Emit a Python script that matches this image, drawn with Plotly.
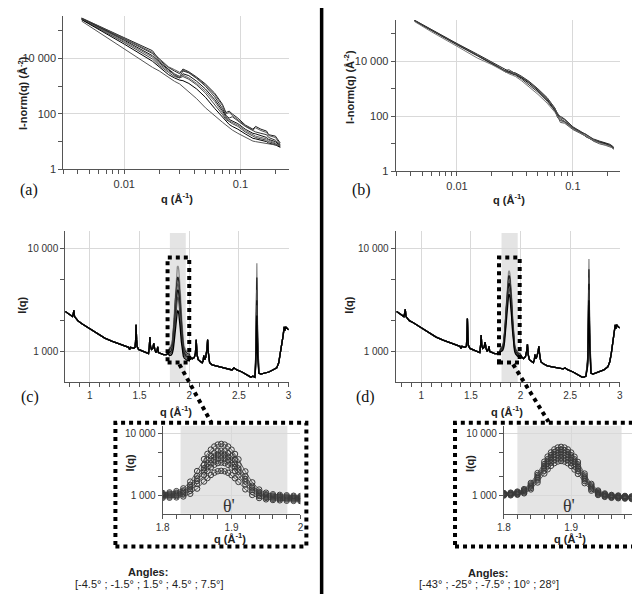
import plotly.graph_objects as go

SANS = "Liberation Sans, Arial, sans-serif"
SERIF = "Liberation Serif, Times New Roman, serif"
W, H = 640, 594

# ---------------- (a) SAXS, tilt angles -4.5 .. 7.5 deg (log10 of I-norm) ----------------
a_q = [0.0043, 0.006, 0.01, 0.0175, 0.02, 0.024, 0.027, 0.03, 0.032, 0.036, 0.042, 0.05, 0.06,
       0.07, 0.075, 0.08, 0.085, 0.095, 0.11, 0.128, 0.135, 0.15, 0.168, 0.175, 0.2, 0.22]
a_log10I = [
    [5.46, 5.18, 4.75, 4.28, 3.95, 3.68, 3.55, 3.45, 3.62, 3.52, 3.33, 3.08, 2.75, 2.35, 2.05, 2.10, 2.00, 1.85, 1.60, 1.45, 1.55, 1.45, 1.38, 1.25, 1.20, 0.95],
    [5.45, 5.17, 4.73, 4.22, 4.00, 3.70, 3.60, 3.50, 3.58, 3.50, 3.30, 3.05, 2.70, 2.30, 2.00, 2.05, 1.95, 1.80, 1.58, 1.42, 1.50, 1.40, 1.33, 1.22, 1.15, 0.90],
    [5.44, 5.15, 4.70, 4.18, 3.90, 3.62, 3.45, 3.35, 3.55, 3.48, 3.28, 3.00, 2.62, 2.20, 1.95, 1.85, 1.90, 1.75, 1.55, 1.40, 1.35, 1.30, 1.25, 1.15, 1.05, 0.88],
    [5.43, 5.13, 4.66, 4.10, 3.85, 3.60, 3.40, 3.30, 3.45, 3.38, 3.18, 2.90, 2.52, 2.12, 1.90, 1.80, 1.75, 1.65, 1.45, 1.30, 1.28, 1.22, 1.15, 1.08, 1.00, 0.85],
    [5.42, 5.10, 4.62, 4.05, 3.80, 3.55, 3.42, 3.35, 3.40, 3.30, 3.10, 2.82, 2.45, 2.05, 1.85, 1.75, 1.70, 1.60, 1.40, 1.25, 1.20, 1.15, 1.10, 1.05, 0.95, 0.82],
    [5.41, 5.08, 4.58, 3.98, 3.75, 3.50, 3.35, 3.30, 3.35, 3.25, 3.05, 2.75, 2.35, 1.98, 1.80, 1.72, 1.65, 1.55, 1.35, 1.20, 1.15, 1.10, 1.05, 1.00, 0.92, 0.80],
    [5.40, 5.05, 4.52, 3.90, 3.70, 3.42, 3.30, 3.22, 3.20, 3.10, 2.90, 2.60, 2.20, 1.88, 1.72, 1.62, 1.55, 1.45, 1.28, 1.12, 1.10, 1.05, 1.00, 0.95, 0.88, 0.80],
    [5.35, 4.95, 4.35, 3.68, 3.55, 3.32, 3.18, 3.08, 2.98, 2.80, 2.55, 2.22, 1.92, 1.70, 1.60, 1.50, 1.42, 1.30, 1.15, 1.02, 1.00, 0.97, 0.93, 0.90, 0.88, 0.85],
]
a_colors = ["#222222", "#555555", "#333333", "#111111", "#666666", "#444444", "#000000", "#555555"]

# ---------------- (b) SAXS, tilt angles -43 .. 28 deg (log10 of I-norm) ----------------
b_q = [0.0043, 0.006, 0.01, 0.015, 0.02, 0.023, 0.026, 0.028, 0.03, 0.032, 0.036, 0.042, 0.05,
       0.06, 0.07, 0.074, 0.078, 0.085, 0.1, 0.12, 0.13, 0.15, 0.17, 0.19, 0.21, 0.225]
b_log10I = [
    [5.50, 5.16, 4.65, 4.26, 3.97, 3.82, 3.70, 3.64, 3.60, 3.58, 3.46, 3.27, 3.00, 2.68, 2.30, 2.05, 2.00, 1.90, 1.62, 1.42, 1.33, 1.18, 1.10, 1.05, 0.98, 0.88],
    [5.49, 5.15, 4.64, 4.24, 3.95, 3.80, 3.66, 3.70, 3.62, 3.55, 3.43, 3.24, 2.97, 2.64, 2.27, 2.10, 1.95, 1.88, 1.60, 1.40, 1.35, 1.15, 1.08, 1.00, 0.95, 0.85],
    [5.48, 5.14, 4.63, 4.23, 3.94, 3.78, 3.62, 3.60, 3.56, 3.52, 3.40, 3.20, 2.93, 2.60, 2.22, 1.95, 1.85, 1.80, 1.55, 1.36, 1.28, 1.12, 1.05, 1.02, 0.92, 0.82],
    [5.48, 5.13, 4.62, 4.22, 3.96, 3.80, 3.64, 3.58, 3.62, 3.55, 3.44, 3.25, 2.98, 2.66, 2.28, 2.00, 1.78, 1.75, 1.52, 1.35, 1.30, 1.10, 1.00, 0.95, 0.90, 0.84],
    [5.47, 5.12, 4.60, 4.20, 3.93, 3.77, 3.65, 3.62, 3.54, 3.50, 3.36, 3.15, 2.88, 2.55, 2.20, 2.02, 1.90, 1.82, 1.58, 1.38, 1.25, 1.14, 1.07, 0.98, 0.94, 0.86],
    [5.45, 5.08, 4.55, 4.12, 3.88, 3.74, 3.60, 3.55, 3.50, 3.45, 3.30, 3.08, 2.80, 2.48, 2.15, 1.98, 1.86, 1.78, 1.55, 1.36, 1.27, 1.13, 1.03, 0.97, 0.91, 0.80],
]
b_colors = ["#222222", "#444444", "#111111", "#555555", "#333333", "#777777"]

# ---------------- (c)/(d) WAXS: shared peak-region grid (linear I) ----------------
peak_q = [1.80, 1.81, 1.82, 1.83, 1.84, 1.85, 1.86, 1.865, 1.87, 1.875, 1.88, 1.885, 1.89,
          1.895, 1.90, 1.905, 1.91, 1.92, 1.93, 1.94, 1.95, 1.96, 1.97, 1.98, 1.99, 2.00]

# (c) left part (log10 I), shared by all curves
c_left_q = [0.752, 0.78, 0.81, 0.825, 0.832, 0.839, 0.846, 0.86, 0.88, 0.92, 0.97, 1.02, 1.08, 1.15,
            1.22, 1.3, 1.36, 1.39, 1.40, 1.41, 1.44, 1.455, 1.46, 1.465, 1.47, 1.475, 1.49, 1.52,
            1.56, 1.59, 1.598, 1.604, 1.61, 1.62, 1.633, 1.643, 1.653, 1.665, 1.676, 1.683, 1.69,
            1.71, 1.74, 1.77, 1.79]
c_left_log10I = [3.39, 3.37, 3.35, 3.34, 3.36, 3.40, 3.34, 3.32, 3.30, 3.27, 3.24, 3.21, 3.17, 3.13,
                 3.10, 3.07, 3.05, 3.04, 3.02, 3.04, 3.03, 3.04, 3.10, 3.26, 3.12, 3.05, 3.02, 3.01,
                 2.99, 2.98, 3.04, 3.14, 3.05, 3.02, 3.03, 3.08, 3.02, 2.99, 3.01, 3.045, 2.99,
                 2.98, 2.97, 2.97, 2.98]
c_peak_I = [
    [1091, 1115, 1168, 1296, 1668, 2475, 3862, 4700, 5510, 6191, 6648, 6807, 6643, 6181, 5495, 4680, 3837, 2440, 1623, 1241, 1103, 1040, 1017, 1001, 984, 973],
    [1050, 1067, 1105, 1199, 1475, 2075, 3107, 3730, 4333, 4840, 5179, 5297, 5174, 4830, 4318, 3710, 3082, 2040, 1430, 1144, 1040, 992, 974, 960, 947, 937],
    [1016, 1029, 1060, 1139, 1372, 1878, 2749, 3275, 3784, 4211, 4498, 4597, 4493, 4201, 3769, 3255, 2724, 1843, 1327, 1084, 995, 954, 938, 926, 913, 905],
    [982, 992, 1018, 1084, 1279, 1705, 2439, 2883, 3312, 3672, 3914, 3997, 3909, 3662, 3297, 2863, 2414, 1670, 1234, 1029, 953, 917, 903, 892, 880, 872],
    [948, 955, 975, 1028, 1186, 1533, 2130, 2491, 2840, 3133, 3330, 3397, 3325, 3123, 2825, 2471, 2105, 1498, 1141, 973, 910, 880, 868, 858, 848, 840],
    [911, 915, 926, 959, 1060, 1285, 1674, 1908, 2136, 2327, 2454, 2497, 2449, 2317, 2121, 1888, 1649, 1250, 1015, 904, 861, 840, 830, 818, 813, 807],
]
c_right_q = [2.01, 2.03, 2.05, 2.062, 2.07, 2.078, 2.09, 2.11, 2.13, 2.14, 2.146, 2.155, 2.165,
             2.178, 2.185, 2.192, 2.205, 2.23, 2.27, 2.32, 2.38, 2.43, 2.45, 2.48, 2.53, 2.58,
             2.6, 2.62, 2.64, 2.66]
c_right_log10I = [2.94, 2.93, 2.94, 2.98, 3.115, 2.97, 2.92, 2.90, 2.89, 2.91, 2.96, 2.92, 2.94,
                  3.02, 3.115, 2.99, 2.89, 2.87, 2.86, 2.84, 2.83, 2.82, 2.84, 2.82, 2.80, 2.77,
                  2.76, 2.75, 2.76, 2.75]
c_peak2_q = [2.668, 2.674, 2.68, 2.686, 2.692]
c_peak2_log10I = [
    [2.95, 3.35, 3.86, 3.30, 2.92],
    [2.93, 3.25, 3.72, 3.22, 2.90],
    [2.90, 3.18, 3.60, 3.15, 2.88],
    [2.88, 3.12, 3.50, 3.10, 2.86],
    [2.86, 3.08, 3.45, 3.05, 2.84],
    [2.84, 3.00, 3.35, 2.98, 2.82],
]
c_tail_q = [2.70, 2.72, 2.76, 2.80, 2.84, 2.88, 2.90, 2.915, 2.93, 2.945, 2.955, 2.96, 2.97, 2.985, 3.0]
c_tail_log10I = [2.79, 2.78, 2.79, 2.80, 2.82, 2.84, 2.89, 2.97, 3.08, 3.16, 3.24, 3.20, 3.24, 3.22, 3.21]

# (d)
d_left_log10I = [3.39, 3.37, 3.35, 3.34, 3.37, 3.41, 3.34, 3.32, 3.30, 3.28, 3.25, 3.22, 3.18, 3.14,
                 3.11, 3.08, 3.06, 3.05, 3.03, 3.05, 3.04, 3.05, 3.14, 3.32, 3.15, 3.06, 3.03, 3.02,
                 3.00, 2.99, 3.06, 3.16, 3.06, 3.03, 3.04, 3.09, 3.03, 3.00, 3.02, 3.05, 3.00,
                 2.99, 2.98, 2.98, 2.99]
d_peak_I = [
    [1086, 1105, 1150, 1262, 1587, 2295, 3513, 4250, 4961, 5559, 5959, 6099, 5953, 5547, 4943, 4226, 3483, 2253, 1533, 1196, 1072, 1015, 994, 978, 962, 950],
    [1067, 1083, 1122, 1220, 1508, 2135, 3214, 3866, 4496, 5026, 5380, 5504, 5374, 5014, 4478, 3842, 3184, 2093, 1454, 1154, 1044, 993, 974, 959, 944, 933],
    [1048, 1062, 1097, 1183, 1439, 1998, 2959, 3540, 4101, 4574, 4889, 4999, 4883, 4562, 4083, 3516, 2929, 1956, 1385, 1117, 1019, 972, 954, 940, 926, 916],
    [1031, 1043, 1073, 1151, 1383, 1888, 2758, 3284, 3792, 4219, 4505, 4604, 4499, 4207, 3774, 3260, 2728, 1846, 1329, 1085, 995, 953, 936, 923, 909, 900],
    [1012, 1022, 1048, 1114, 1314, 1750, 2502, 2958, 3397, 3767, 4014, 4099, 4008, 3755, 3379, 2934, 2472, 1708, 1260, 1048, 970, 932, 916, 904, 892, 883],
    [994, 1001, 1022, 1078, 1246, 1615, 2252, 2638, 3010, 3323, 3532, 3604, 3526, 3311, 2992, 2614, 2222, 1573, 1192, 1012, 944, 911, 897, 886, 874, 866],
]
d_right_log10I = [2.95, 2.93, 2.95, 3.00, 3.07, 2.97, 2.92, 2.90, 2.89, 2.92, 2.97, 2.93, 2.95,
                  3.00, 3.05, 2.98, 2.90, 2.88, 2.86, 2.85, 2.84, 2.83, 2.84, 2.82, 2.80, 2.77,
                  2.76, 2.75, 2.75, 2.76]
d_peak2_q = [2.678, 2.684, 2.69, 2.696, 2.702]
d_peak2_log10I = [
    [2.95, 3.40, 3.90, 3.35, 2.93],
    [2.93, 3.32, 3.80, 3.28, 2.91],
    [2.91, 3.26, 3.72, 3.22, 2.89],
    [2.90, 3.22, 3.66, 3.18, 2.87],
    [2.88, 3.18, 3.60, 3.14, 2.85],
    [2.86, 3.10, 3.50, 3.08, 2.83],
]
d_tail_q = [2.71, 2.73, 2.76, 2.80, 2.84, 2.88, 2.90, 2.915, 2.93, 2.945, 2.955, 2.96, 2.97, 2.985, 3.0]
d_tail_log10I = [2.79, 2.78, 2.79, 2.80, 2.82, 2.85, 2.90, 2.98, 3.10, 3.18, 3.26, 3.22, 3.26, 3.24, 3.23]

waxs_colors = ["#8c8c8c", "#222222", "#555555", "#111111", "#444444", "#000000"]

angles_c = "[-4.5° ; -1.5° ; 1.5° ; 4.5° ; 7.5°]"
angles_d = "[-43° ; -25° ; -7.5° ; 10° ; 28°]"


def px(x):
    return x / W


def py(y):
    return 1 - y / H


def pw(vals):
    return [10 ** v for v in vals]


fig = go.Figure()

for row, col in zip(a_log10I, a_colors):
    fig.add_trace(go.Scatter(x=a_q, y=pw(row), mode="lines", line=dict(color=col, width=1),
                             xaxis="x", yaxis="y", showlegend=False, hoverinfo="skip"))
for row, col in zip(b_log10I, b_colors):
    fig.add_trace(go.Scatter(x=b_q, y=pw(row), mode="lines", line=dict(color=col, width=1),
                             xaxis="x2", yaxis="y2", showlegend=False, hoverinfo="skip"))

for i in range(6):
    xs = c_left_q + peak_q + c_right_q + c_peak2_q + c_tail_q
    ys = pw(c_left_log10I) + c_peak_I[i] + pw(c_right_log10I) + pw(c_peak2_log10I[i]) + pw(c_tail_log10I)
    fig.add_trace(go.Scatter(x=xs, y=ys, mode="lines", line=dict(color=waxs_colors[i], width=1.3),
                             xaxis="x3", yaxis="y3", showlegend=False, hoverinfo="skip"))
    xs = c_left_q + peak_q + c_right_q + d_peak2_q + d_tail_q
    ys = pw(d_left_log10I) + d_peak_I[i] + pw(d_right_log10I) + pw(d_peak2_log10I[i]) + pw(d_tail_log10I)
    fig.add_trace(go.Scatter(x=xs, y=ys, mode="lines", line=dict(color=waxs_colors[i], width=1.3),
                             xaxis="x4", yaxis="y4", showlegend=False, hoverinfo="skip"))

MK = dict(symbol="circle-open", size=5.5, color="#3a3a3a", line=dict(width=1))
for i in range(6):
    fig.add_trace(go.Scatter(x=peak_q, y=c_peak_I[i], mode="lines+markers",
                             line=dict(color="#3a3a3a", width=0.8), marker=MK,
                             xaxis="x5", yaxis="y5", showlegend=False, hoverinfo="skip"))
    fig.add_trace(go.Scatter(x=peak_q, y=d_peak_I[i], mode="lines+markers",
                             line=dict(color="#3a3a3a", width=0.8), marker=MK,
                             xaxis="x6", yaxis="y6", showlegend=False, hoverinfo="skip"))


def axis(size=11, **kw):
    d = dict(showline=True, linecolor="#555555", linewidth=1, ticks="outside", ticklen=4,
             tickcolor="#555555", tickwidth=1, showgrid=True, gridcolor="#d9d9d9", gridwidth=1,
             zeroline=False, tickfont=dict(family=SANS, size=size, color="#333333"))
    d.update(kw)
    return d


minor_q = [0.003, 0.004, 0.005, 0.006, 0.007, 0.008, 0.009, 0.02, 0.03, 0.04, 0.05, 0.06, 0.07,
           0.08, 0.09, 0.2]
minor_style = dict(ticks="outside", ticklen=4, tickcolor="#555555", showgrid=False)
minor_lin = [0.8, 0.9, 1.1, 1.2, 1.3, 1.4, 1.6, 1.7, 1.8, 1.9, 2.1, 2.2, 2.3, 2.4, 2.6, 2.7, 2.8, 2.9]
minor_inset = [1.82, 1.84, 1.86, 1.88, 1.92, 1.94, 1.96, 1.98]

fig.update_layout(
    width=W, height=H, autosize=False,
    margin=dict(l=0, r=0, t=0, b=0, pad=0),
    paper_bgcolor="white", plot_bgcolor="white",
    xaxis=axis(11, type="log", domain=[px(49), px(278)], range=[-2.525, -0.585], anchor="y",
               tickvals=[0.01, 0.1], ticktext=["0.01", "0.1"],
               minor=dict(tickvals=minor_q, **minor_style)),
    yaxis=axis(11, type="log", domain=[py(163), py(8)], range=[0, 5.536], anchor="x",
               tickvals=[1, 100, 10000], ticktext=["1", "100", "10 000"],
               minor=dict(tickvals=[10, 1000, 100000], **minor_style)),
    xaxis2=axis(11, type="log", domain=[px(386.7), px(615)], range=[-2.529, -0.59], anchor="y2",
                tickvals=[0.01, 0.1], ticktext=["0.01", "0.1"],
                minor=dict(tickvals=minor_q, **minor_style)),
    yaxis2=axis(11, type="log", domain=[py(165), py(12)], range=[0, 5.51], anchor="x2",
                tickvals=[1, 100, 10000], ticktext=["1", "100", "10 000"],
                minor=dict(tickvals=[10, 1000, 100000], **minor_style)),
    xaxis3=axis(10, domain=[px(51), px(278)], range=[0.752, 3.0], anchor="y3",
                tickvals=[1, 1.5, 2, 2.5, 3], ticktext=["1", "1.5", "2", "2.5", "3"],
                minor=dict(tickvals=minor_lin, **minor_style)),
    yaxis3=axis(10, type="log", domain=[py(378.3), py(225)], range=[2.698, 4.176], anchor="x3",
                tickvals=[1000, 10000], ticktext=["1 000", "10 000"],
                minor=dict(tickvals=[2000, 5000], **minor_style)),
    xaxis4=axis(10, domain=[px(386.7), px(614.3)], range=[0.742, 3.0], anchor="y4",
                tickvals=[1, 1.5, 2, 2.5, 3], ticktext=["1", "1.5", "2", "2.5", "3"],
                minor=dict(tickvals=minor_lin, **minor_style)),
    yaxis4=axis(10, type="log", domain=[py(378.3), py(225)], range=[2.698, 4.176], anchor="x4",
                tickvals=[1000, 10000], ticktext=["1 000", "10 000"],
                minor=dict(tickvals=[2000, 5000], **minor_style)),
    xaxis5=axis(10, domain=[px(150), px(290)], range=[1.8, 2.0], anchor="y5",
                tickvals=[1.8, 1.9, 2.0], ticktext=["1.8", "1.9", "2"],
                minor=dict(tickvals=minor_inset, **minor_style)),
    yaxis5=axis(10, type="log", domain=[py(511), py(422)], range=[2.70, 4.128], anchor="x5",
                tickvals=[1000, 10000], ticktext=["1 000", "10 000"],
                minor=dict(tickvals=[2000, 5000], **minor_style)),
    xaxis6=axis(10, domain=[px(496.7), px(633.3)], range=[1.8, 2.0], anchor="y6",
                tickvals=[1.8, 1.9, 2.0], ticktext=["1.8", "1.9", "2"],
                minor=dict(tickvals=minor_inset, **minor_style)),
    yaxis6=axis(10, type="log", domain=[py(511), py(422)], range=[2.70, 4.128], anchor="x6",
                tickvals=[1000, 10000], ticktext=["1 000", "10 000"],
                minor=dict(tickvals=[2000, 5000], **minor_style)),
)

GREY = "#e4e4e4"
DOT = dict(color="black", width=4, dash="dot")
shapes = [
    dict(type="rect", xref="x3", yref="y3 domain", x0=1.805, x1=1.965, y0=0, y1=0.985,
         fillcolor=GREY, line=dict(width=0), layer="below"),
    dict(type="rect", xref="x4", yref="y4 domain", x0=1.809, x1=1.972, y0=0, y1=0.985,
         fillcolor=GREY, line=dict(width=0), layer="below"),
    dict(type="rect", xref="x5", yref="y5 domain", x0=1.826, x1=1.981, y0=0, y1=1,
         fillcolor=GREY, line=dict(width=0), layer="below"),
    dict(type="rect", xref="x6", yref="y6 domain", x0=1.82, x1=1.975, y0=0, y1=1,
         fillcolor=GREY, line=dict(width=0), layer="below"),
    # divider
    dict(type="line", xref="paper", yref="paper", x0=px(311.5), x1=px(311.5), y0=0, y1=1,
         line=dict(color="black", width=3.5)),
    # zoom boxes
    dict(type="rect", xref="paper", yref="paper", x0=px(155), x1=px(177), y0=py(358), y1=py(252),
         line=DOT, fillcolor="rgba(0,0,0,0)"),
    dict(type="rect", xref="paper", yref="paper", x0=px(491.7), x1=px(512.7), y0=py(358), y1=py(252),
         line=DOT, fillcolor="rgba(0,0,0,0)"),
    dict(type="line", xref="paper", yref="paper", x0=px(167), y0=py(360), x1=px(199), y1=py(418), line=DOT),
    dict(type="line", xref="paper", yref="paper", x0=px(506), y0=py(360), x1=px(542), y1=py(418), line=DOT),
    dict(type="rect", xref="paper", yref="paper", x0=px(102), x1=px(296), y0=py(544), y1=py(419),
         line=DOT, fillcolor="rgba(0,0,0,0)"),
    dict(type="rect", xref="paper", yref="paper", x0=px(447), x1=px(637), y0=py(544), y1=py(419),
         line=DOT, fillcolor="rgba(0,0,0,0)"),
]
fig.update_layout(shapes=shapes)


def ann(x, y, text, size=11, family=SANS, angle=0, color="#222222"):
    return dict(x=px(x), y=py(y), xref="paper", yref="paper", text=text, showarrow=False,
                xanchor="center", yanchor="middle", textangle=angle,
                font=dict(family=family, size=size, color=color))


QT = "<b>q (Å<sup>-1</sup>)</b>"
annotations = [
    ann(165, 192, QT), ann(502, 193, QT),
    ann(8, 86, "<b>I-norm(q) (Å<sup>-2</sup>)</b>", angle=-90),
    ann(340, 80, "<b>I-norm(q) (Å<sup>-2</sup>)</b>", angle=-90),
    ann(164, 407, QT), ann(500, 407, QT),
    ann(7, 300, "<b>I(q)</b>", angle=-90), ann(339, 300, "<b>I(q)</b>", angle=-90),
    ann(218, 535, QT), ann(564, 535, QT),
    ann(117, 460, "<b>I(q)</b>", angle=-90), ann(463, 460, "<b>I(q)</b>", angle=-90),
    ann(14, 184, "(a)", 16, SERIF, color="#111111"),
    ann(352, 184, "(b)", 16, SERIF, color="#111111"),
    ann(15, 393, "(c)", 16, SERIF, color="#111111"),
    ann(356, 393, "(d)", 16, SERIF, color="#111111"),
    ann(217, 503, "θ'", 18, SERIF, color="#333333"),
    ann(563, 503, "θ'", 18, SERIF, color="#333333"),
    ann(135, 570, "<b>Angles:</b>", 11),
    ann(137, 582, angles_c, 11),
    ann(480, 571, "<b>Angles:</b>", 11),
    ann(482, 582, angles_d, 11),
]
fig.update_layout(annotations=annotations)

fig.write_html("out.html")
